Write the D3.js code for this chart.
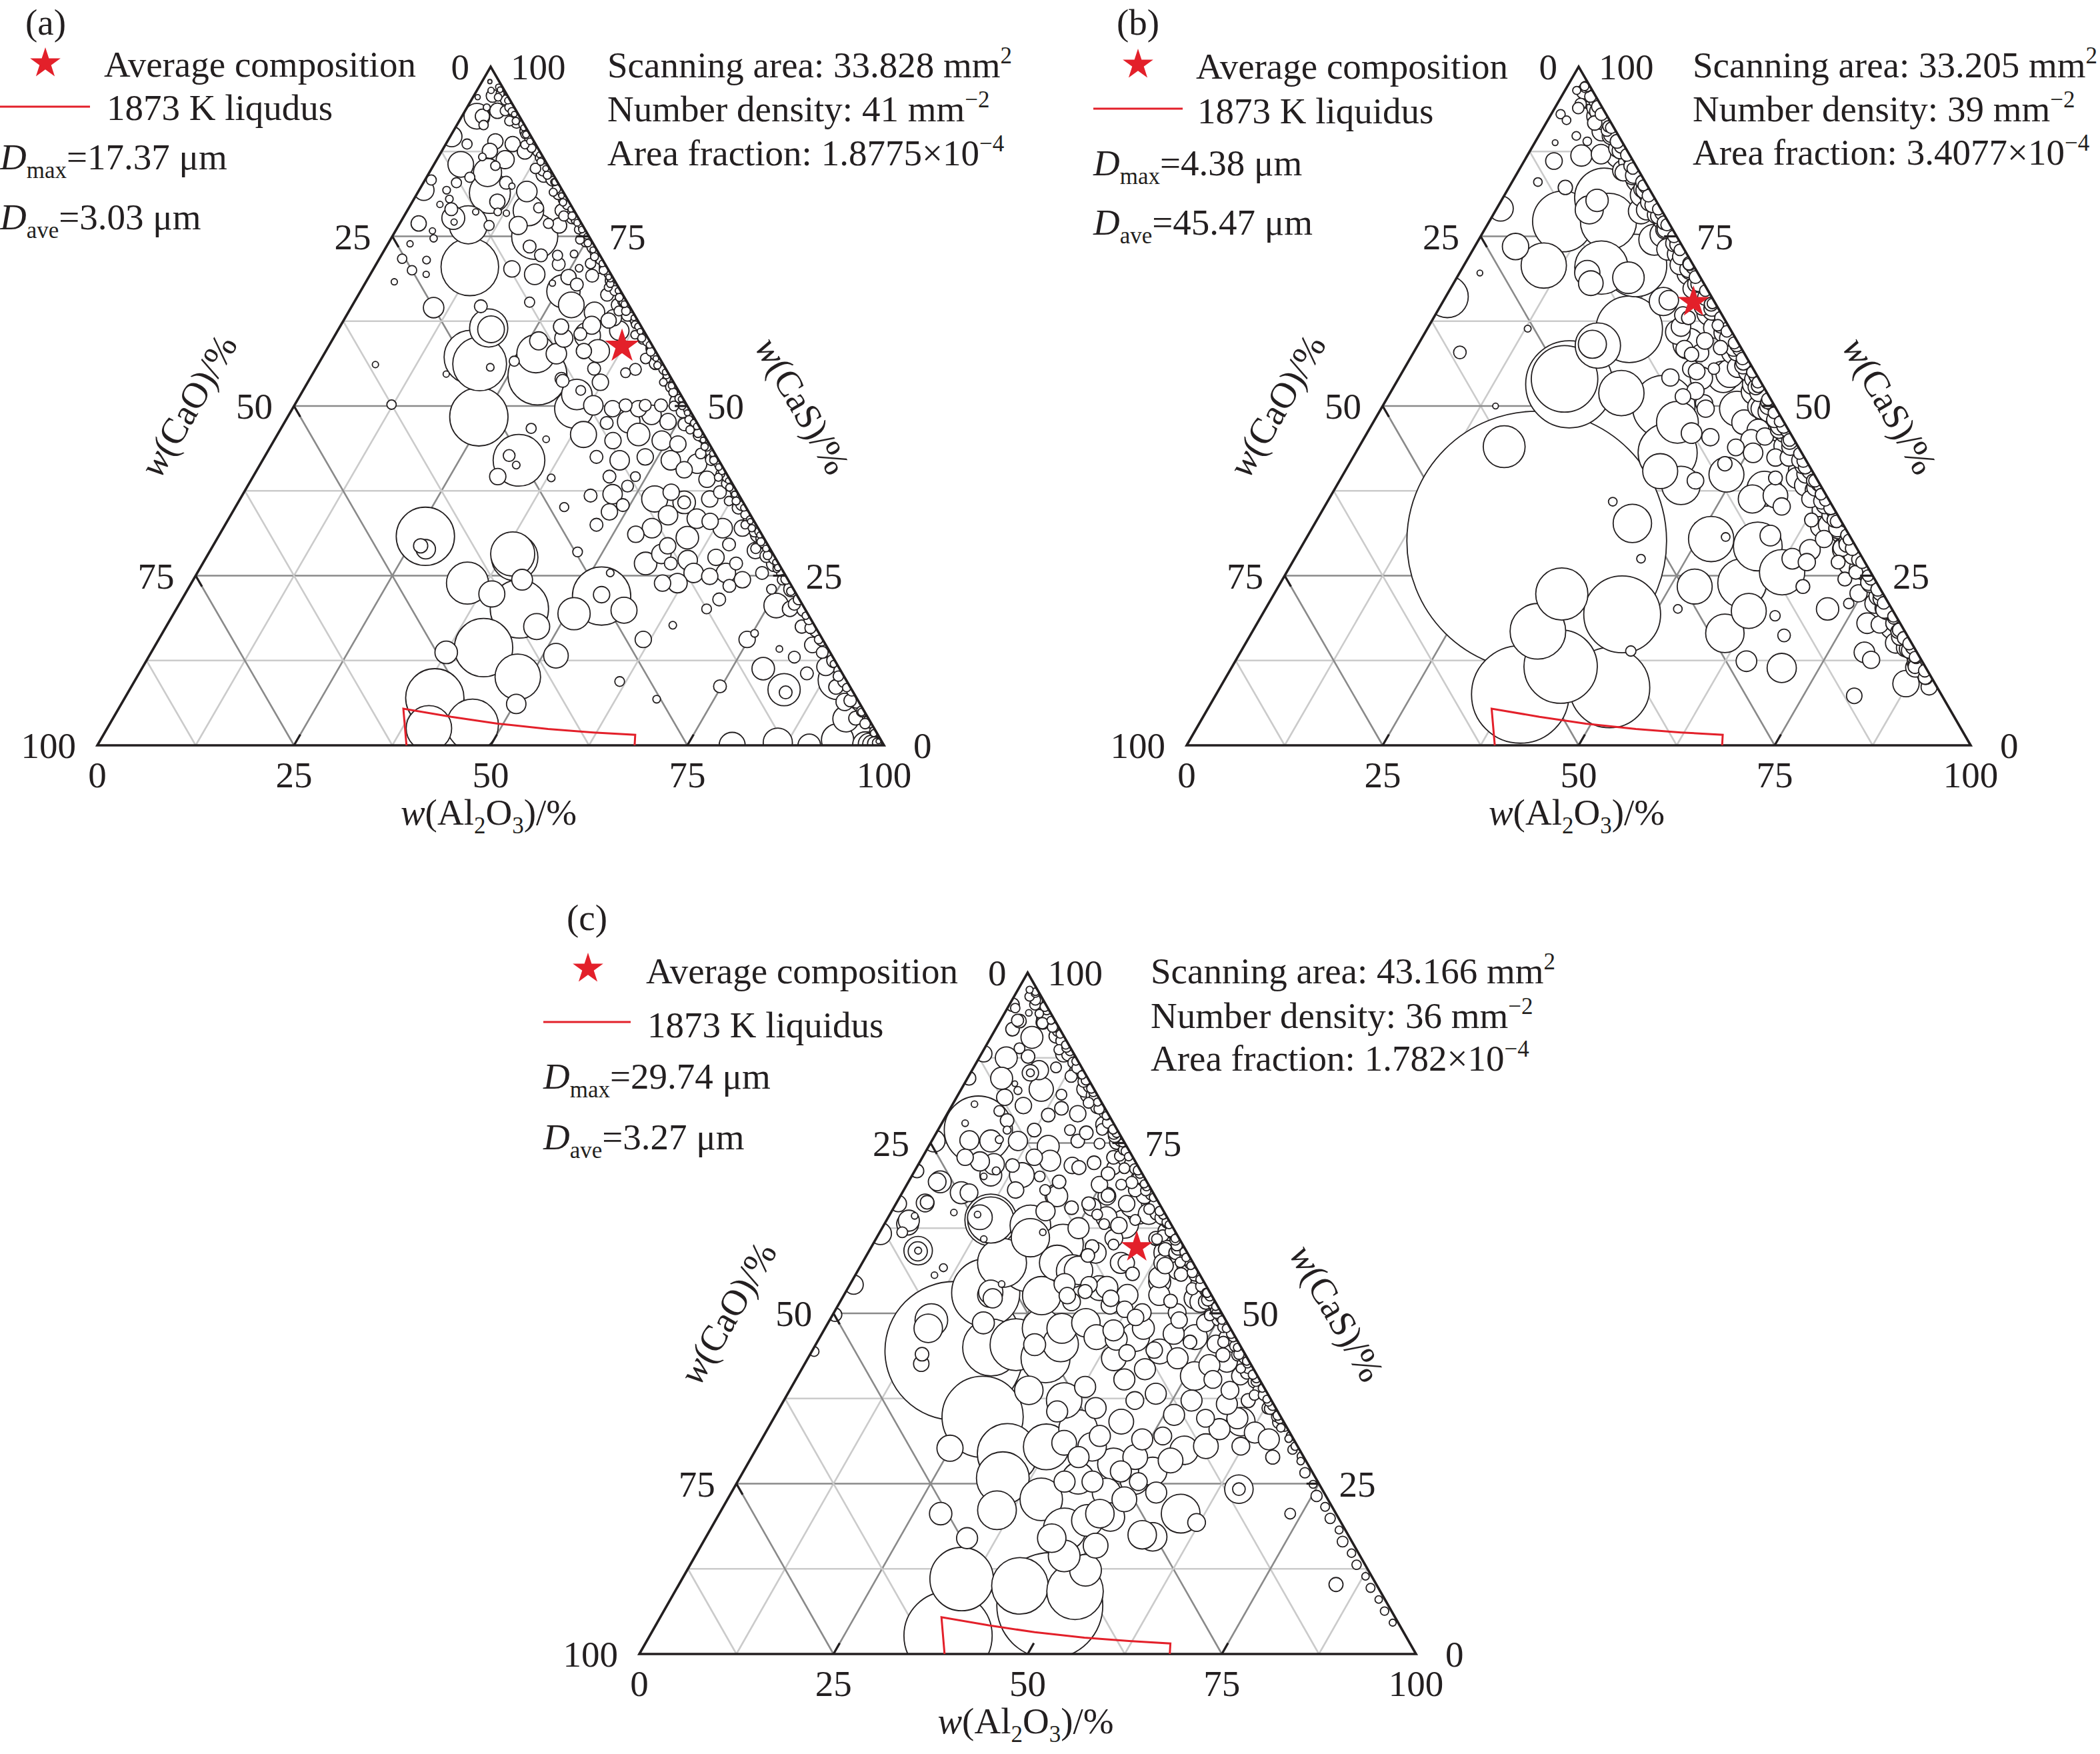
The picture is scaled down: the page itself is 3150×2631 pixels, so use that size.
<!DOCTYPE html>
<html><head><meta charset="utf-8">
<script src="https://cdn.jsdelivr.net/npm/d3@7"></script>
<style>
body{margin:0;background:#fff}
svg{display:block}
text{font-family:"Liberation Serif","Times New Roman",serif;fill:#231f20}
</style>
</head><body>
<svg id="chart" width="3150" height="2631"></svg>
<script>
// ---------------- DATA ----------------
const tickValues = [0, 25, 50, 75, 100];
const gridLevels = [12.5, 25, 37.5, 50, 62.5, 75, 87.5];
const majorLevels = [25, 50, 75];
const panelLabels = ["(a)", "(b)", "(c)"];
const legendStarText = "Average composition";
const legendLineTexts = ["1873 K liqudus", "1873 K liquidus", "1873 K liquidus"];
const scanAreas = ["33.828", "33.205", "43.166"];
const numberDensities = ["41", "39", "36"];
const areaFractions = ["1.8775", "3.4077", "1.782"];
const dMaxValues = ["17.37", "4.38", "29.74"];
const dAveValues = ["3.03", "45.47", "3.27"];
// average composition [w(Al2O3), w(CaS)]
const avgComp = [[37.3, 58.8], [32.0, 65.3], [34.2, 59.7]];
// 1873 K liquidus [w(Al2O3), w(CaS)]
const liquidus = [[39.3, 0], [36.2, 5.4], [42.9, 4.2], [49.3, 3.2], [56.1, 2.4], [62.1, 1.9], [67.6, 1.55], [68.3, 0]];

// inclusions [w(Al2O3), w(CaS), diameter um]
const inclA = [
[2.4,95.7,3.7],[2.6,92.7,4.1],[4.1,93.5,4.4],[3.4,91.4,2.7],[5.1,93.5,2.9],[2.7,88.6,2.9],[6.1,89.0,4.4],[6.1,87.6,4.4],[8.5,88.6,4.4],[10.6,87.5,4.4],
[8.7,86.3,5.2],[7.4,84.4,8.1],[5.6,86.7,2.2],[7.9,85.4,2.7],[3.4,85.6,7.4],[5.5,83.7,2.9],[4.2,82.9,2.9],[9.2,81.4,11.8],[10.5,82.9,3.7],[11.5,82.4,1.8],
[13.8,81.6,5.9],[14.7,84.1,4.4],[16.5,79.2,2.9],[15.4,78.8,8.8],[6.4,77.7,6.6],[3.5,81.8,2.2],[4.5,80.5,2.2],[3.7,79.7,1.8],[5.5,79.0,3.7],[10.8,80.1,4.4],
[11.6,78.6,2.2],[12.8,78.4,1.8],[8.8,78.6,1.8],[6.8,77.1,1.8],[8.8,76.7,11.0],[2.4,76.9,4.4],[4.7,75.8,1.8],[5.4,74.7,2.1],[11.5,76.6,2.9],[15.2,76.6,5.2],
[18.1,75.0,13.3],[18.9,76.9,2.9],[20.4,76.6,4.4],[19.6,78.8,3.7],[18.2,73.5,3.7],[20.3,72.2,3.7],[22.4,72.2,2.9],[23.2,70.9,3.7],[24.4,72.4,2.2],[20.9,69.4,5.9],
[17.6,70.2,4.7],[26.1,70.3,2.2],[25.4,69.0,4.4],[28.3,69.2,3.7],[23.8,68.1,1.8],[25.8,66.9,9.6],[27.0,67.9,3.7],[22.3,65.3,2.9],[16.4,64.7,3.7],[27.8,64.9,7.4],
[31.3,63.8,5.9],[28.1,61.7,4.4],[31.9,61.9,5.2],[33.7,62.6,4.4],[33.7,64.9,3.7],[31.6,66.4,3.7],[29.3,60.0,5.2],[34.6,58.1,6.6],[32.8,58.1,4.4],[35.4,55.5,3.7],
[29.5,57.7,5.9],[26.3,59.6,5.2],[26.9,57.7,11.0],[24.7,56.6,2.9],[22.1,55.7,2.2],[17.0,54.7,1.8],[32.0,54.0,3.7],[35.1,51.7,8.8],[10.5,64.5,5.9],[2.9,71.7,2.7],
[2.8,73.9,1.8],[5.0,70.0,2.7],[6.1,71.5,2.2],[7.1,69.4,1.8],[3.6,68.3,1.8],[7.3,56.1,1.8],[12.3,50.2,2.7],[31.8,46.7,2.9],[0.6,81.8,5.9],[0.8,83.3,2.9],
[1.9,92.7,7.4],[0.2,89.7,5.9],
[12.1,70.5,16.6],[24.3,48.4,16.8],[18.9,57.2,15.5],[20.5,56.2,15.5],[19.0,61.5,11.0],[19.4,61.3,7.7],[28.7,54.5,17.0],[26.3,30.8,16.8],[26.4,29.4,4.1],[27.3,28.9,5.6],
[38.7,28.2,12.7],[39.2,27.7,13.4],[35.1,23.9,12.1],[39.0,22.3,7.5],[41.8,24.4,6.0],[43.6,20.1,16.8],[47.1,17.5,7.5],[41.9,14.4,16.8],[37.5,13.7,6.5],[48.4,10.1,13.1],
[51.7,13.2,7.1],[50.2,6.1,5.6],[39.4,7.0,16.8],[46.2,3.0,14.9],[40.9,2.5,13.1],[53.1,22.0,16.8],[53.0,22.2,4.7],[50.9,19.4,9.3],[57.0,19.9,7.5],[52.5,25.4,2.2],
[61.7,9.4,2.8],[61.6,15.6,4.7],[64.3,17.7,2.2],[67.7,6.8,2.2],[74.8,8.7,3.7],[67.4,20.1,2.8],[74.8,15.6,4.7],[79.0,11.3,6.5],[76.0,20.6,7.1],[83.2,8.2,9.3],
[83.6,7.8,3.7],[89.3,9.6,11.2],[93.2,3.9,7.5],[80.7,0,7.5],[86.3,0.4,8.4],[90.5,0,6.5],[93.7,0.8,9.3],[84.9,10.6,3.7],[82.1,13.0,3.4],[75.3,16.5,2.2],
[79.6,14.2,1.9],[74.2,23.0,2.8],[32.1,60.4,7.5],[35.8,49.6,11.2],[38.9,45.8,7.5],[38.0,50.1,5.6],[32.6,42.0,14.9],[31.0,42.7,3.4],[32.6,41.3,2.2],[31.1,39.6,4.7],
[38.0,39.4,2.2],[34.5,45.1,1.9],[41.8,35.1,2.6],[46.8,28.5,2.8],
[67.2,25.4,5.6],[69.8,24.4,4.7],[71.8,25.4,3.7],[65.4,24.9,4.7],[68.3,21.5,3.7],[68.6,23.5,3.7],
[40.7,49.6,4.7],[41.0,47.5,3.7],[42.1,50.1,3.7],[43.7,47.7,6.5],[44.6,50.1,3.4],[45.9,45.8,6.5],[43.1,44.9,4.7],[42.2,42.5,3.7],[45.4,42.0,5.6],[48.4,42.5,4.7],
[48.6,39.6,2.8],[48.3,38.2,3.4],[45.3,39.6,3.7],[44.3,36.8,3.7],[47.0,37.0,5.6],[47.9,34.4,4.7],[47.2,32.5,3.7],[49.1,35.4,3.7],[52.9,31.1,4.7],[54.5,32.0,5.6],
[52.7,36.3,7.5],[54.3,37.3,4.7],[56.7,35.8,6.5],[56.7,35.8,3.7],[55.6,33.9,5.6],[59.5,33.4,5.6],[61.4,33.0,4.7],[59.7,30.6,6.5],[57.8,29.4,4.7],[57.6,28.2,5.6],
[56.3,26.8,6.5],[59.5,26.8,3.7],[61.4,27.3,5.6],[63.1,25.4,5.6],[61.8,23.9,5.6],[59.9,23.9,4.7],[64.8,27.7,4.7],[65.5,29.6,3.7],[63.5,32.0,5.6],[59.7,36.3,4.7],
[57.9,39.2,4.7],[60.5,37.3,3.7],[55.5,41.5,5.6],[54.3,40.6,4.7],[51.9,42.0,5.6],[49.3,44.9,5.6],[51.6,44.4,4.7],[51.0,47.3,3.7],[48.7,47.7,4.7],[46.1,48.7,5.6],
[44.0,49.6,4.7],[46.6,50.1,3.7],[48.5,50.6,4.7],[49.2,52.5,5.6],[54.9,45.8,4.7],[57.8,43.5,5.6],[59.8,41.1,3.7],[62.9,37.3,3.7],[65.4,34.9,3.7],[66.0,32.0,4.7],
[68.5,31.1,4.7],[69.3,28.7,4.7],[67.8,26.8,3.7],[72.7,26.8,4.7],
[31.1,60.6,3.7],[34.1,63.0,4.7],[35.8,61.1,5.6],[40.7,55.4,3.4],[39.7,54.9,2.8],[37.2,53.5,4.7],[32.3,53.7,3.7],[35.3,52.3,2.8],
[1.0,97.8,1.2],[1.8,96.5,1.8],[0.6,95.5,1.5],[2.5,94.0,2.0],
[83.5,14.8,4.5],[86.8,11.6,5.2],[89.6,8.6,4.2],[91.8,6.4,5.0],[94.4,4.0,4.0],[80.8,17.5,3.8],[78.0,20.1,4.4]
];
const edgeA = [
[2.9,96.6,1.6],[4.3,95.1,2.8],[6.0,93.4,2.2],[7.4,91.8,3.4],[9.5,90.0,2.0],[11.0,88.3,3.0],[12.9,86.6,2.4],[14.3,84.8,3.6],[16.6,83.0,2.1],[18.0,81.2,3.1],
[19.9,79.6,2.5],[21.5,77.7,3.3],[23.6,76.0,1.9],[25.0,74.2,3.0],[27.0,72.5,2.6],[28.5,70.5,3.8],[30.8,68.8,2.0],[32.3,67.0,2.9],[34.2,65.3,2.3],[35.7,63.4,3.5],
[37.9,61.7,2.0],[39.4,59.9,3.1],[41.3,58.2,2.6],[42.8,56.3,3.6],[45.1,54.5,1.9],[46.5,52.8,3.0],[48.4,51.1,2.4],[49.8,49.2,3.7],[52.1,47.5,2.1],[53.6,45.7,3.2],
[55.5,44.0,2.5],[57.0,42.1,3.4],[59.2,40.4,2.0],[60.7,38.6,3.0],[62.6,36.9,2.3],[64.0,35.0,3.6],[66.3,33.3,2.0],[67.8,31.5,3.1],[69.7,29.8,2.6],[71.1,27.9,3.7],
[73.4,26.2,1.9],[74.9,24.4,3.0],[76.8,22.7,2.4],[78.2,20.8,3.5],[80.5,19.1,2.1],[82.0,17.3,3.2],[83.9,15.6,2.5],[85.3,13.7,3.4],[87.6,12.0,2.0],[89.1,10.2,3.0],
[91.0,8.5,2.4],[92.4,6.6,3.6],[94.7,4.9,2.2],[96.0,3.2,3.0],[97.8,1.8,2.0],[99.0,0.6,1.4],[98.9,0.4,2.6],[98.6,0.3,3.8],[98.3,0.2,5.0],[98.0,0.2,6.2],[97.6,0.1,7.4],
[3.2,95.5,2.2],[6.4,92.0,2.8],[10.1,88.5,2.4],[13.2,85.0,3.0],[17.2,81.5,2.3],[20.3,78.0,2.9],[24.1,74.5,2.5],[27.2,71.0,3.0],[31.2,67.5,2.3],[34.3,64.0,2.8],
[38.1,60.5,2.4],[41.2,57.0,3.0],[45.2,53.5,2.2],[48.3,50.0,2.8],[52.1,46.5,2.4],[55.2,43.0,3.0],[59.2,39.5,2.3],[62.3,36.0,2.7],[66.1,32.5,2.4],[69.2,29.0,2.9]
];
const rimA = [
[3.3,96.5,2.4],[4.2,95.5,3.6],[5.4,94.5,2.9],[6.3,93.5,4.2],[7.2,92.5,3.1],[8.4,91.5,2.6],[9.3,90.5,3.8],[10.2,89.5,2.9],[11.4,88.5,4.0],[12.3,87.5,3.2],
[13.2,86.5,2.5],[14.4,85.5,3.7],[15.3,84.5,3.0],[16.2,83.5,4.3],[17.4,82.5,3.1],[18.3,81.5,2.6],[19.2,80.5,3.9],[20.4,79.5,2.8],[21.3,78.5,4.1],[22.2,77.5,3.3],
[23.4,76.5,2.4],[24.3,75.5,3.6],[25.2,74.5,2.9],[26.4,73.5,4.2],[27.3,72.5,3.1],[28.2,71.5,2.6],[29.4,70.5,3.8],[30.3,69.5,2.9],[31.2,68.5,4.0],[32.4,67.5,3.2],
[33.3,66.5,2.5],[34.2,65.5,3.7],[35.4,64.5,3.0],[36.3,63.5,4.3],[37.2,62.5,3.1],[38.4,61.5,2.6],[39.3,60.5,3.9],[40.2,59.5,2.8],[41.4,58.5,4.1],[42.3,57.5,3.3],
[43.2,56.5,2.4],[44.4,55.5,3.6],[45.3,54.5,2.9],[46.2,53.5,4.2],[47.4,52.5,3.1],[48.3,51.5,2.6],[49.2,50.5,3.8],[50.4,49.5,2.9],[51.3,48.5,4.0],[52.2,47.5,3.2],
[53.4,46.5,2.5],[54.3,45.5,3.7],[55.2,44.5,3.0],[56.4,43.5,4.3],[57.3,42.5,3.1],[58.2,41.5,2.6],[59.4,40.5,3.9],[60.3,39.5,2.8],[61.2,38.5,4.1],[62.4,37.5,3.3],
[63.3,36.5,2.4],[64.2,35.5,3.6],[65.4,34.5,2.9],[66.3,33.5,4.2],[67.2,32.5,3.1],[68.4,31.5,2.6],[69.3,30.5,3.8],[70.2,29.5,2.9],[71.4,28.5,4.0],[72.3,27.5,3.2],
[73.2,26.5,2.5],[74.4,25.5,3.7],[75.3,24.5,3.0],[76.7,23.0,4.3],[78.4,21.5,3.1],[79.8,20.0,3.9],[81.2,18.5,2.8],[82.9,17.0,4.1],[84.3,15.5,3.3],[85.7,14.0,3.6],
[87.4,12.5,4.2],[88.8,11.0,3.1],[90.2,9.5,3.8],[91.9,8.0,2.9],[93.3,6.5,4.0],[94.7,5.0,3.2],[96.4,3.5,3.7],[97.8,2.0,3.0]
];
const fringeA = [
[2.5,97,1.7],[3.2,96,2.3],[4.7,95,1.9],[5.35,94,2.5],[6.5,93,1.6],[7.2,92,2.1],[8.7,91,1.7],[9.35,90,2.3],[10.5,89,1.9],[11.2,88,2.5],
[12.7,87,1.6],[13.35,86,2.1],[14.5,85,1.7],[15.2,84,2.3],[16.7,83,1.9],[17.35,82,2.5],[18.5,81,1.6],[19.2,80,2.1],[20.7,79,1.7],[21.35,78,2.3],
[22.5,77,1.9],[23.2,76,2.5],[24.7,75,1.6],[25.35,74,2.1],[26.5,73,1.7],[27.2,72,2.3],[28.7,71,1.9],[29.35,70,2.5],[30.5,69,1.6],[31.2,68,2.1],
[32.7,67,1.7],[33.35,66,2.3],[34.5,65,1.9],[35.2,64,2.5],[36.7,63,1.6],[37.35,62,2.1],[38.5,61,1.7],[39.2,60,2.3],[40.7,59,1.9],[41.35,58,2.5],
[42.5,57,1.6],[43.2,56,2.1],[44.7,55,1.7],[45.35,54,2.3],[46.5,53,1.9],[47.2,52,2.5],[48.7,51,1.6],[49.35,50,2.1],[50.5,49,1.7],[51.2,48,2.3],
[52.7,47,1.9],[53.35,46,2.5],[54.5,45,1.6],[55.2,44,2.1],[56.7,43,1.7],[57.35,42,2.3],[58.5,41,1.9],[59.2,40,2.5],[60.7,39,1.6],[61.35,38,2.1],
[62.5,37,1.7],[63.2,36,2.3],[64.7,35,1.9],[65.35,34,2.5],[66.5,33,1.6],[67.2,32,2.1],[68.7,31,1.7],[69.35,30,2.3],[70.5,29,1.9],[71.2,28,2.5],
[72.7,27,1.6],[73.35,26,2.1]
];
const inclB = [
[29.6,30.1,45.3],
[18.5,44.0,7.3],[40.5,32.7,6.7],[36.4,35.9,1.5],[44.2,27.5,1.5],[36.7,22.3,9.1],[36.4,16.8,9.7],[41.9,11.6,12.8],[38.8,7.5,17.0],[49.7,8.5,14.0],
[45.9,19.3,13.4],[49.7,13.9,1.8],[53.1,23.4,6.1],[51.7,30.4,7.9],[53.4,30.7,1.5],[52.6,20.1,1.5],[60.4,16.5,6.7],[61.8,19.8,6.1],[58.9,23.9,8.5],[58.2,29.3,8.5],
[63.2,25.5,7.9],[59.0,30.9,3.6],[65.2,12.4,3.6],[70.2,11.4,5.1],[68.1,16.2,2.2],[65.5,19.1,1.8],[71.7,20.1,3.9],[74.0,20.9,1.8],[81.5,7.3,2.7],[81.0,12.6,3.0],
[77.8,18.0,3.6],[87.2,9.1,4.6],[87.4,12.6,4.3],[63.5,27.5,3.6],[65.6,27.0,3.0],[66.1,30.4,3.0],[65.1,28.8,3.6],[69.6,27.0,2.4],[66.9,23.4,2.4],[63.1,33.2,2.4],
[56.7,36.8,4.3],[54.8,37.8,6.1],[54.0,36.3,4.9],[48.9,39.9,6.1],[43.9,38.3,6.7],[40.2,40.4,6.1],[38.8,47.6,7.3],[35.9,49.9,10.9],[37.6,51.4,2.7],[40.8,50.4,3.0],
[44.1,45.4,3.0],[45.4,49.6,6.1],[41.9,54.8,4.9],[49.5,45.0,3.6],[53.9,42.4,3.0],[36.6,57.8,3.0],[36.6,55.5,3.0],[32.5,63.0,2.4],[29.5,51.9,7.9],[22.2,59.1,4.9],
[23.0,58.9,7.9],[22.2,53.2,15.2],[21.2,54.0,11.6],[21.9,70.7,10.9],[21.9,68.9,5.5],[10.2,70.7,7.9],[5.2,73.5,4.6],[2.6,69.6,1.0],[5.9,57.9,2.2],[14.4,50.0,1.0],
[12.8,61.4,1.2],[17.5,68.1,4.3],[0.2,66.1,7.3],
[2.2,97.1,1.5],[2.4,92.1,1.5],[6.2,91.7,2.5],[6.9,86.9,3.7],[9.3,87.1,3.4],[2.6,88.8,1.0],[3.8,86.1,2.9],[3.3,83.0,1.5],[7.2,82.2,2.5],[12.2,80.3,3.9],
[12.9,80.7,10.3],[11.9,78.9,4.9],[15.2,77.2,9.8],[18.6,78.7,4.4],[9.4,77.2,10.6],[0.5,79.1,4.4],[17.7,70.4,9.3],[16.3,69.6,4.4],[22.4,74.5,5.4],[27.5,70.8,3.4],
[28.1,65.4,4.9],[25.8,61.3,11.6],[39.8,43.1,10.3],[38.6,54.1,3.9],[34.4,59.2,5.4],[28.7,65.6,3.4],
[31.6,63.4,2.9],[32.2,61.7,3.4],[33.5,64.6,2.9],[36.8,61.9,2.0],[36.3,59.6,2.9],[35.6,57.6,2.5],[37.5,55.1,2.9],[38.8,58.6,2.5],[49.7,46.4,3.9],[47.9,41.5,2.5],
[50.7,43.1,3.4],[45.4,39.0,2.9],[48.1,43.9,2.9],[39.5,55.5,2.0],
[41.3,54.3,5.5],[45.6,53.2,3.6],[38.8,52.2,3.0],[47.3,47.6,4.3],[51.0,45.5,3.0],[55.4,39.4,2.4],[55.6,42.4,3.0],[58.1,39.4,3.6],[58.3,35.2,3.0],[61.4,36.3,3.0],
[64.8,32.2,3.6],[69.0,29.1,3.0],[71.7,24.5,2.4],[72.6,25.5,2.4],[74.5,22.4,3.0],[79.5,17.8,3.0],[79.6,13.7,3.6],
[1.5,96.5,1.4],[3.0,94.5,2.0],[1.2,93.0,1.6],
[48.5,49.6,3.6],[52.3,46.5,3.0],[55.2,45.0,3.0],[58.4,41.4,3.0],[61.7,38.3,2.4],[64.8,35.8,3.0],[67.4,33.2,2.4],[69.6,30.6,3.0],[72.2,28.1,2.4],[74.1,26.0,3.0],
[77.2,22.4,2.4],[79.4,19.8,3.0],[82.3,16.8,2.4],[84.9,14.2,3.0],[87.1,11.6,2.4],[32.2,60.9,4.3],[34.3,58.4,3.0],[34.6,54.2,3.0],[41.4,49.6,3.0],[41.4,46.0,3.6],
[3.0,93.9,2.0],[3.7,95.6,2.0],[6.6,89.0,1.5],[4.8,89.8,1.5],[8.3,90.6,2.0],[13.5,84.4,2.9]
];
const edgeB = [
[2.6,97.0,1.6],[3.5,95.6,2.8],[5.4,94.1,2.2],[6.0,92.7,3.6],[8.2,91.2,2.0],[9.2,89.8,3.0],[11.3,88.3,2.5],[11.6,86.9,4.2],[13.9,85.4,2.3],[14.9,84.0,3.3],
[17.0,82.5,1.9],[17.5,81.1,4.0],[19.6,79.6,2.6],[20.8,78.2,3.1],[22.9,76.7,2.1],[23.1,75.3,4.5],[25.6,73.8,2.4],[26.4,72.4,3.5],[28.6,70.9,2.0],[29.2,69.5,3.8],
[31.3,68.0,2.7],[32.4,66.6,3.2],[34.5,65.1,1.8],[34.8,63.7,4.3],[37.2,62.2,2.3],[38.1,60.8,3.4],[40.2,59.3,2.1],[40.7,57.9,3.9],[42.8,56.4,2.6],[44.0,55.0,3.0],
[46.1,53.5,2.0],[46.3,52.1,4.4],[48.8,50.6,2.4],[49.6,49.2,3.6],[51.8,47.7,1.9],[52.4,46.3,3.7],[54.5,44.8,2.8],[55.6,43.4,3.1],[57.7,41.9,2.2],[58.0,40.5,4.1],
[60.4,39.0,2.3],[61.3,37.6,3.3],[63.4,36.1,2.0],[63.9,34.7,4.0],[66.0,33.2,2.5],[67.2,31.8,3.2],[69.3,30.3,1.9],[69.5,28.9,4.3],[72.0,27.4,2.4],[72.8,26.0,3.5],
[75.0,24.5,2.1],[75.6,23.1,3.6],[77.7,21.6,2.6],[78.8,20.2,3.0],[80.8,18.7,2.0],[81.3,17.3,3.8],[83.6,15.8,2.3],[84.5,14.4,3.2],[86.6,12.9,2.0],[87.2,11.5,3.4],
[89.3,10.0,2.4],[90.4,8.6,2.8],
[2.5,96.3,2.5],[5.8,93.4,3.0],[7.7,90.5,3.4],[11.5,87.6,2.8],[13.3,84.7,3.6],[17.5,81.8,3.0],[19.2,78.9,3.5],[23.0,76.0,2.7],[24.8,73.1,3.8],[28.9,70.2,3.0],
[30.9,67.3,3.4],[34.8,64.4,2.8],[36.5,61.5,3.6],[40.5,58.6,3.0],[42.4,55.7,3.5],[46.2,52.8,2.7],[48.0,49.9,3.8],[52.1,47.0,3.0],[54.1,44.1,3.4],[58.0,41.2,2.8],
[59.7,38.3,3.6],[63.7,35.4,3.0],[65.6,32.5,3.5],[69.4,29.6,2.7],[71.2,26.7,3.8],[75.3,23.8,3.0],[77.3,20.9,3.4],[81.2,18.0,2.8],[82.9,15.1,3.6],[86.9,12.2,3.0]
];
const rimB = [
[3.3,96.5,3.0],[4.1,95.5,4.6],[5.4,94.5,2.6],[6.2,93.5,4.0],[7.3,92.5,3.4],[8.1,91.5,5.0],[9.4,90.5,2.8],[10.2,89.5,3.8],[11.3,88.5,3.0],[12.1,87.5,4.6],
[13.4,86.5,2.6],[14.2,85.5,4.0],[15.3,84.5,3.4],[16.1,83.5,5.0],[17.4,82.5,2.8],[18.2,81.5,3.8],[19.3,80.5,3.0],[20.1,79.5,4.6],[21.4,78.5,2.6],[22.2,77.5,4.0],
[23.3,76.5,3.4],[24.1,75.5,5.0],[25.4,74.5,2.8],[26.2,73.5,3.8],[27.3,72.5,3.0],[28.1,71.5,4.6],[29.4,70.5,2.6],[30.2,69.5,4.0],[31.3,68.5,3.4],[32.1,67.5,5.0],
[33.4,66.5,2.8],[34.2,65.5,3.8],[35.3,64.5,3.0],[36.1,63.5,4.6],[37.4,62.5,2.6],[38.2,61.5,4.0],[39.3,60.5,3.4],[40.1,59.5,5.0],[41.4,58.5,2.8],[42.2,57.5,3.8],
[43.3,56.5,3.0],[44.1,55.5,4.6],[45.4,54.5,2.6],[46.2,53.5,4.0],[47.3,52.5,3.4],[48.1,51.5,5.0],[49.4,50.5,2.8],[50.2,49.5,3.8],[51.3,48.5,3.0],[52.1,47.5,4.6],
[53.4,46.5,2.6],[54.2,45.5,4.0],[55.3,44.5,3.4],[56.1,43.5,5.0],[57.4,42.5,2.8],[58.2,41.5,3.8],[59.3,40.5,3.0],[60.1,39.5,4.6],[61.4,38.5,2.6],[62.2,37.5,4.0],
[63.3,36.5,3.4],[64.1,35.5,5.0],[65.4,34.5,2.8],[66.2,33.5,3.8],[67.3,32.5,3.0],[68.1,31.5,4.6],[69.4,30.5,2.6],[70.2,29.5,4.0],[71.3,28.5,3.4],[72.1,27.5,5.0],
[73.4,26.5,2.8],[74.2,25.5,3.8],[75.3,24.5,3.0],[76.1,23.5,4.6],[77.4,22.5,2.6],[78.2,21.5,4.0],[79.3,20.5,3.4],[80.1,19.5,4.4],[81.4,18.5,2.8],[82.2,17.5,3.6],
[83.3,16.5,3.0],[84.1,15.5,4.0],[85.4,14.5,2.6],[86.2,13.5,3.4],[87.3,12.5,2.8],[88.1,11.5,3.6],[89.4,10.5,2.4],[90.2,9.5,3.0]
];
const fringeB = [
[2.4,97,2.0],[3.0,96,2.8],[4.65,95,2.4],[5.2,94,3.2],[6.4,93,2.2],[7.0,92,3.0],[8.65,91,2.0],[9.2,90,2.8],[10.4,89,2.4],[11.0,88,3.2],
[12.65,87,2.2],[13.2,86,3.0],[14.4,85,2.0],[15.0,84,2.8],[16.65,83,2.4],[17.2,82,3.2],[18.4,81,2.2],[19.0,80,3.0],[20.65,79,2.0],[21.2,78,2.8],
[22.4,77,2.4],[23.0,76,3.2],[24.65,75,2.2],[25.2,74,3.0],[26.4,73,2.0],[27.0,72,2.8],[28.65,71,2.4],[29.2,70,3.2],[30.4,69,2.2],[31.0,68,3.0],
[32.65,67,2.0],[33.2,66,2.8],[34.4,65,2.4],[35.0,64,3.2],[36.65,63,2.2],[37.2,62,3.0],[38.4,61,2.0],[39.0,60,2.8],[40.65,59,2.4],[41.2,58,3.2],
[42.4,57,2.2],[43.0,56,3.0],[44.65,55,2.0],[45.2,54,2.8],[46.4,53,2.4],[47.0,52,3.2],[48.65,51,2.2],[49.2,50,3.0],[50.4,49,2.0],[51.0,48,2.8],
[52.65,47,2.4],[53.2,46,3.2],[54.4,45,2.2],[55.0,44,3.0],[56.65,43,2.0],[57.2,42,2.8],[58.4,41,2.4],[59.0,40,3.2],[60.65,39,2.2],[61.2,38,3.0],
[62.4,37,2.0],[63.0,36,2.8],[64.65,35,2.4],[65.2,34,3.2],[66.4,33,2.2],[67.0,32,3.0],[68.65,31,2.0],[69.2,30,2.8],[70.4,29,2.4],[71.0,28,3.2],
[72.65,27,2.2],[73.2,26,3.0],[74.4,25,2.0],[75.0,24,2.8],[76.65,23,2.4],[77.2,22,3.2],[78.4,21,2.2],[79.0,20,3.0],[80.65,19,2.0],[81.2,18,2.8],
[82.4,17,2.4],[83.0,16,3.0],[84.65,15,2.2],[85.2,14,2.8],[86.4,13,2.0],[87.0,12,2.6],[88.65,11,2.2],[89.2,10,2.4]
];
const inclC = [
[18.3,44.5,29.7],[13.3,47.8,6.1],[15.0,42.6,3.3],[26.8,34.8,17.4],[24.9,30.2,5.6],[28.5,20.6,4.8],[33.7,17.0,4.5],[36.0,11.0,13.6],[38.4,2.7,18.9],[44.0,10.0,12.1],
[49.3,7.1,22.7],[51.5,9.2,12.1],[31.5,45.5,7.6],[30.8,38.7,6.1],[36.0,35.6,4.5],[37.2,30.4,9.8],[32.7,29.4,12.9],[33.9,25.8,11.3],[40.4,22.7,9.1],[35.5,21.1,8.3],
[45.6,18.3,9.1],[47.9,19.6,6.8],[43.6,25.8,6.8],[40.0,33.0,8.3],[51.0,25.5,6.1],[57.5,17.2,6.1],[59.4,20.6,8.3],[65.1,24.2,6.1],[65.1,24.2,2.7],[51.3,12.3,6.8],
[50.8,15.9,5.3],
[52.7,26.8,6.1],[54.2,28.4,5.3],[55.2,29.9,6.1],[57.7,30.5,5.3],[58.2,33.0,4.5],[59.7,34.6,4.5],[62.2,30.5,3.8],[55.6,34.6,3.8],[51.1,40.8,6.1],[47.6,43.4,4.5],
[44.8,44.4,5.3],[44.2,41.8,4.5],[42.3,40.3,4.5],[39.4,43.4,5.3],[35.6,46.5,5.3],[33.2,48.6,6.1],[37.3,47.5,4.5],[40.6,46.5,6.1],[39.7,50.1,3.8],[36.5,52.7,4.5],
[35.0,51.2,3.8],[32.4,53.7,5.3],[30.8,53.2,3.0],[29.8,51.7,3.8],[27.6,54.3,4.5],[25.1,57.4,7.6],[28.4,56.3,6.1],[29.3,58.9,4.5],[30.6,61.0,3.8],[28.1,64.1,4.5],
[25.5,65.6,3.8],[25.3,62.5,4.5],[18.8,52.7,5.3],[27.9,47.8,8.3],[36.1,37.2,7.6],[43.1,30.4,6.1],[47.1,27.9,6.8],[48.3,23.7,6.1],[51.1,22.7,5.3],[50.6,20.1,6.1],
[44.6,17.0,6.1],[47.5,14.4,6.8],[62.1,19.3,3.8],[73.5,20.6,2.3],[84.6,10.2,3.0],[56.0,17.5,6.1],
[40.6,52.7,4.5],[44.2,50.1,3.8],[45.4,52.2,4.5],[49.0,49.6,3.8],[45.3,47.0,4.5],[48.3,46.5,5.3],[51.5,45.5,3.8],[52.3,47.5,3.0],[54.2,42.9,4.5],[53.7,40.3,3.8],
[57.0,40.8,3.8],[59.8,37.2,3.0],[57.3,36.7,4.5],[52.5,37.2,4.5],[51.3,35.1,4.5],[47.4,38.2,4.5],[45.2,37.2,3.8],[45.0,34.1,5.3],[49.0,31.5,4.5],[51.4,32.0,3.8],
[49.4,28.9,5.3],[63.0,32.5,4.5],[67.1,28.9,3.0],[45.0,54.8,4.5],[41.5,57.4,3.8],[38.4,58.9,5.3],[39.3,55.3,4.5],[33.3,57.4,4.5],[30.9,63.1,6.1],
[5.6,92.7,2.9],[5.3,90.5,4.7],[3.5,87.5,4.7],[8.6,85.7,4.1],[4.4,84.5,4.7],[10.3,82.9,5.2],[9.2,80.5,3.5],[5.2,76.9,14.6],[4.8,75.4,4.1],[7.6,75.3,4.7],
[5.5,72.9,3.5],[7.7,72.3,4.1],[10.1,70.3,4.7],[4.1,69.3,4.7],[3.9,66.3,2.9],[3.0,63.1,4.7],[6.3,59.1,4.1],[0.5,54.2,4.1],[14.4,44.0,2.9],[13.1,49.0,7.0],
[13.4,63.7,11.1],[13.4,63.7,9.9],[18.9,62.9,8.7],[19.8,61.1,8.2],[24.5,60.1,8.7],[18.0,57.4,10.5],[21.4,57.0,11.1],[27.7,56.2,7.0],[25.5,52.6,8.2],[18.7,53.1,5.2],
[18.1,53.0,14.6],[20.0,48.6,4.7],[22.8,45.0,12.2],[25.8,45.4,11.1],[33.3,53.8,4.7],[41.0,47.8,4.7],[31.9,64.9,5.2],
[22.9,65.5,2.9],[26.7,64.5,2.3],[28.3,63.1,2.3],[28.4,59.8,2.9],[31.0,60.1,2.3],[30.8,54.2,3.5],[34.6,52.2,3.5],[35.6,55.8,2.9],[34.0,57.4,3.5],[37.2,50.6,3.5],
[39.2,49.4,3.5],[40.7,44.2,3.5],[44.0,44.6,3.5],[39.7,54.6,4.7],[39.2,57.0,3.5],[42.5,51.8,2.9],[38.0,59.4,2.9],[36.2,60.9,2.3],[32.0,63.7,2.3],[30.3,62.9,3.5],
[29.7,66.1,3.5],[26.7,67.3,2.9],[27.6,68.9,2.3],[25.1,70.5,2.9],[22.5,72.1,2.9],[19.9,71.7,3.5],[19.4,69.3,2.9],[20.0,67.3,4.7],[18.8,75.3,2.9],[17.0,76.9,2.3],
[16.8,79.3,3.5],[14.3,80.1,2.9],[13.1,79.1,2.9],[13.3,82.1,2.3],[15.4,74.5,4.7],[14.4,72.9,3.5],[12.2,71.7,2.9],[14.4,68.1,3.5],[16.5,70.1,2.3],[18.2,68.1,2.3],
[12.4,76.9,2.9],[11.1,75.3,4.1],
[0.3,88.1,3.5],[0.2,84.5,2.9],[0.3,75.3,4.7],[0.3,70.9,2.9],[0.2,61.7,4.7],[0.3,66.1,3.5],[0.3,49.8,2.9],[0.3,44.4,2.1],
[1.5,97.5,1.5],[3.0,96.0,2.2],[1.0,94.8,2.0],[4.5,94.0,1.8],[2.2,93.0,2.6],
[4.5,88.9,2.3],[2.2,91.7,2.9],[3.3,95.3,2.3],[3.1,94.1,1.4],[2.5,92.9,2.9],[0.4,95.3,2.9],[6.2,87.7,2.9],[10.6,86.1,2.3],[7.7,85.3,3.5],[7.7,85.3,1.7],
[6.5,83.7,1.2],[6.2,81.7,3.5],[7.4,82.7,1.7],[8.2,78.3,2.9],[8.9,76.9,1.7],[6.5,79.7,2.3],[2.8,80.7,1.4],[3.0,77.9,1.4],[8.6,75.5,1.7],[9.3,70.1,1.4],
[10.5,70.9,1.7],[7.6,67.7,4.7],[3.3,64.3,1.4],[10.8,56.7,1.7],[10.2,55.6,1.4],[8.1,64.8,1.4],[11.3,64.5,1.4],[13.9,60.9,1.4],[21.0,61.9,1.4],[19.5,54.3,1.4],
[19.4,52.2,4.1],[30.5,47.8,6.4],[28.2,45.4,4.7],[28.8,52.6,3.5],[28.5,58.5,2.9],[30.6,43.4,10.5],[38.3,46.2,4.7],[19.8,65.0,4.1],[16.8,82.1,3.5],[19.3,76.5,2.9],
[21.8,74.9,2.3],[24.6,72.9,2.9],[26.8,71.3,2.3],[24.8,68.9,3.5],[24.8,66.1,2.9],[29.8,68.1,2.9],[36.8,62.5,3.5],[39.6,58.9,2.9],[41.9,55.7,2.9],[45.0,49.0,3.5],
[48.0,45.8,2.9],[2.9,61.9,2.3],
[2.9,63.6,4.5],[6.3,59.2,6.1],[6.3,59.2,1.5],[3.7,69.3,3.8],[3.7,66.2,3.8],[8.6,67.7,3.8],[11.8,64.1,5.3],[9.7,71.9,4.5],[14.1,70.3,5.3],[16.7,72.4,4.5],
[20.2,67.2,4.5],[20.9,71.4,3.0],[25.4,71.4,3.0],[26.6,67.2,3.8],[30.5,65.7,4.5],[33.3,64.6,4.5],[36.0,61.0,3.0],[38.7,57.4,3.8],[41.1,56.3,3.8],[46.4,51.7,4.5],
[48.6,48.6,3.8],[53.2,43.9,3.0],[52.2,42.4,4.5],[56.7,38.7,3.8],[60.4,34.1,6.1],[65.3,31.5,4.5],
[37.8,39.2,4.5],[40.7,36.1,4.5],[39.2,31.0,5.3],[42.1,28.9,4.5],[43.3,32.0,4.5],[48.6,26.8,4.5],[45.7,25.3,4.5],[42.1,25.3,4.5],[51.6,25.3,3.8],[54.7,23.7,4.5],
[49.0,20.6,6.1]
];
const edgeC = [
[2.4,97.2,1.6],[3.2,95.9,2.6],[4.9,94.6,2.0],[5.5,93.3,3.3],[7.4,92.0,2.2],[8.3,90.7,3.0],[10.2,89.4,1.8],[10.6,88.1,3.5],[12.5,86.8,2.4],[13.5,85.5,2.9],
[15.4,84.2,2.0],[15.9,82.9,3.4],[17.8,81.6,2.3],[18.8,80.3,2.8],[20.6,79.0,1.7],[21.0,77.7,3.6],[22.9,76.4,2.5],[23.9,75.1,3.0],[25.7,73.8,1.9],[26.3,72.5,3.3],
[28.2,71.2,2.2],[29.2,69.9,2.7],[31.0,68.6,1.8],[31.4,67.3,3.5],[33.3,66.0,2.4],[34.3,64.7,3.0],[36.2,63.4,2.0],[36.7,62.1,3.2],[38.6,60.8,2.3],[39.6,59.5,2.8],
[41.3,58.2,1.8],[41.8,56.9,3.4],[43.7,55.6,2.5],[44.7,54.3,2.9],[46.6,53.0,1.9],[47.1,51.7,3.2],[49.0,50.4,2.2],[50.0,49.1,2.7],[51.7,47.8,1.8],[52.3,46.5,3.0],
[54.1,45.2,2.3],[55.1,43.9,2.6],[57.0,42.6,1.8],[57.6,41.3,2.8],[59.4,40.0,2.1],[60.4,38.7,2.5],[62.1,37.4,1.7],[62.9,36.1,2.6],[64.6,34.8,2.0],
[66.0,33.2,1.8],[67.8,31.6,1.6],[69.1,30.0,2.0],[71.0,28.3,1.6],[72.4,26.6,2.2],[74.3,24.9,1.7],[75.6,23.2,2.4],[77.5,21.6,1.9],[79.0,19.9,2.2],[81.0,18.2,1.7],
[82.3,16.5,2.3],[84.3,14.8,1.8],[85.8,13.1,2.0],[87.8,11.4,1.6],[89.3,9.7,1.9],[91.2,8.0,1.6],[92.8,6.3,1.8],[94.7,4.6,1.5],
[2.0,96.5,2.0],[5.6,92.6,2.4],[9.7,88.7,2.2],[13.2,84.8,2.6],[17.4,80.9,2.3],[21.1,77.0,2.5],[25.3,73.1,2.2],[28.8,69.2,2.6],[33.0,65.3,2.3],[36.7,61.4,2.5],
[40.9,57.5,2.2],[44.4,53.6,2.6],[48.6,49.7,2.3],[52.3,45.8,2.4],[56.5,41.9,2.0],[60.2,38.0,2.2]
];
const rimC = [
[3.3,96.5,2.4],[4.4,95.5,3.4],[5.2,94.5,2.0],[6.3,93.5,3.0],[7.4,92.5,3.8],[8.2,91.5,2.6],[9.3,90.5,2.4],[10.4,89.5,3.4],[11.2,88.5,2.0],[12.3,87.5,3.0],
[13.4,86.5,3.8],[14.2,85.5,2.6],[15.3,84.5,2.4],[16.4,83.5,3.4],[17.2,82.5,2.0],[18.3,81.5,3.0],[19.4,80.5,3.8],[20.2,79.5,2.6],[21.3,78.5,2.4],[22.4,77.5,3.4],
[23.2,76.5,2.0],[24.3,75.5,3.0],[25.4,74.5,3.8],[26.2,73.5,2.6],[27.3,72.5,2.4],[28.4,71.5,3.4],[29.2,70.5,2.0],[30.3,69.5,3.0],[31.4,68.5,3.8],[32.2,67.5,2.6],
[33.3,66.5,2.4],[34.4,65.5,3.4],[35.2,64.5,2.0],[36.3,63.5,3.0],[37.4,62.5,3.8],[38.2,61.5,2.6],[39.3,60.5,2.4],[40.4,59.5,3.4],[41.2,58.5,2.0],[42.3,57.5,3.0],
[43.4,56.5,3.8],[44.2,55.5,2.6],[45.3,54.5,2.4],[46.4,53.5,3.4],[47.2,52.5,2.0],[48.3,51.5,3.0],[49.4,50.5,3.8],[50.2,49.5,2.6],[51.3,48.5,2.4],[52.4,47.5,3.4],
[53.2,46.5,2.0],[54.3,45.5,3.0],[55.4,44.5,3.6],[56.2,43.5,2.6],[57.3,42.5,2.4],[58.4,41.5,3.2],[59.2,40.5,2.0],[60.3,39.5,2.8],[61.4,38.5,3.2],[62.2,37.5,2.4],
[63.3,36.5,2.2],[64.4,35.5,2.8],[65.2,34.5,2.0],[66.3,33.5,2.4],[67.9,32.0,2.0],[69.2,30.5,1.8],[70.8,29.0,2.0]
];
const fringeC = [
[2.5,97,1.8],[3.2,96,2.4],[4.7,95,2.0],[5.35,94,2.7],[6.5,93,1.7],[7.2,92,2.2],[8.7,91,1.8],[9.35,90,2.4],[10.5,89,2.0],[11.2,88,2.7],
[12.7,87,1.7],[13.35,86,2.2],[14.5,85,1.8],[15.2,84,2.4],[16.7,83,2.0],[17.35,82,2.7],[18.5,81,1.7],[19.2,80,2.2],[20.7,79,1.8],[21.35,78,2.4],
[22.5,77,2.0],[23.2,76,2.7],[24.7,75,1.7],[25.35,74,2.2],[26.5,73,1.8],[27.2,72,2.4],[28.7,71,2.0],[29.35,70,2.7],[30.5,69,1.7],[31.2,68,2.2],
[32.7,67,1.8],[33.35,66,2.4],[34.5,65,2.0],[35.2,64,2.7],[36.7,63,1.7],[37.35,62,2.2],[38.5,61,1.8],[39.2,60,2.4],[40.7,59,2.0],[41.35,58,2.7],
[42.5,57,1.7],[43.2,56,2.2],[44.7,55,1.8],[45.35,54,2.4],[46.5,53,2.0],[47.2,52,2.7],[48.7,51,1.7],[49.35,50,2.2],[50.5,49,1.8],[51.2,48,2.4],
[52.7,47,2.0],[53.35,46,2.7],[54.5,45,1.7],[55.2,44,2.2],[56.7,43,1.8],[57.35,42,2.4],[58.5,41,2.0],[59.2,40,2.7],[60.7,39,1.7],[61.35,38,2.2],
[62.5,37,1.8],[63.2,36,2.4],[64.7,35,2.0],[65.35,34,2.7]
];

// ---------------- LAYOUT ----------------
const panels = [
  {x0:146, y0:1118, W:1180, H:1018, dRef:17.37, rRef:45.2, incl: inclA.concat(edgeA, rimA, fringeA),
   label:[38,52], lstar:[68,95], avgText:[156,115], lline:[0,135,160], lineText:[160,180],
   dmax:[0,254], dave:[0,344], stats:[911,116,182,248], starR:27},
  {x0:1780, y0:1118, W:1176, H:1018, dRef:45.47, rRef:195.5, incl: inclB.concat(edgeB, rimB, fringeB),
   label:[1675,52], lstar:[1707,97], avgText:[1794,118], lline:[1640,1774,163], lineText:[1796,185],
   dmax:[1640,263], dave:[1640,352], stats:[2539,116,182,247], starR:25},
  {x0:959, y0:2481, W:1165, H:1022, dRef:29.74, rRef:104.1, incl: inclC.concat(edgeC, rimC, fringeC),
   label:[850,1395], lstar:[882,1453], avgText:[969,1475], lline:[815,946,1533], lineText:[971,1556],
   dmax:[815,1633], dave:[815,1724], stats:[1726,1475,1542,1606], starR:25}
];
const FS = 55, SUBFS = 35, RED = "#e3202a", INK = "#231f20";

const svg = d3.select("#chart");
const defs = svg.append("defs");

function rich(parent, x, y, parts, anchor) {
  const t = parent.append("text").attr("x", x).attr("y", y)
    .attr("font-size", FS).attr("text-anchor", anchor || "start");
  let shift = 0;
  parts.forEach(p => {
    const s = t.append("tspan").text(p.t);
    let target = 0, fs = FS;
    if (p.sub) { target = 13; fs = SUBFS; }
    if (p.sup) { target = -21; fs = SUBFS; }
    if (target - shift !== 0) s.attr("dy", target - shift);
    s.attr("font-size", fs);
    if (p.it) s.attr("font-style", "italic");
    shift = target;
  });
  return t;
}

function starPath(R) {
  return d3.symbol(d3.symbolStar, R * R / 0.8908130915292852)();
}

panels.forEach((p, i) => {
  const g = svg.append("g");
  const xs = d3.scaleLinear().domain([0, 100]).range([p.x0, p.x0 + p.W]);
  const ys = d3.scaleLinear().domain([0, 100]).range([p.y0, p.y0 - p.H]);
  const rs = d3.scaleLinear().domain([0, p.dRef]).range([0, p.rRef]);
  const X = (al, cas) => xs(al + cas / 2);
  const Y = (al, cas) => ys(cas);
  const corners = [[0,0],[100,0],[0,100]];

  const clipId = "clip" + i;
  defs.append("clipPath").attr("id", clipId).append("polygon")
    .attr("points", corners.map(d => X(d[0],d[1]) + "," + Y(d[0],d[1])).join(" "));

  // grid
  const grid = g.append("g").attr("fill", "none");
  gridLevels.forEach(v => {
    const major = majorLevels.includes(v);
    const segs = [
      [[0, v], [100 - v, v]],          // CaS = v
      [[v, 0], [v, 100 - v]],          // Al2O3 = v
      [[100 - v, 0], [0, 100 - v]]     // CaO = v
    ];
    segs.forEach(s => grid.append("line")
      .attr("x1", X(s[0][0], s[0][1])).attr("y1", Y(s[0][0], s[0][1]))
      .attr("x2", X(s[1][0], s[1][1])).attr("y2", Y(s[1][0], s[1][1]))
      .attr("stroke", major ? "#8a8a8a" : "#cbcbcb").attr("stroke-width", 2.6));
  });

  // inclusions (largest first so small ones stay visible)
  const data = p.incl.slice().sort((a, b) => b[2] - a[2]);
  g.append("g").attr("clip-path", `url(#${clipId})`)
    .selectAll("circle").data(data).join("circle")
    .attr("cx", d => X(d[0], d[1])).attr("cy", d => Y(d[0], d[1]))
    .attr("r", d => rs(d[2]))
    .attr("fill", "#fff").attr("stroke", INK).attr("stroke-width", 1.8);

  // triangle frame
  g.append("polygon")
    .attr("points", corners.map(d => X(d[0],d[1]) + "," + Y(d[0],d[1])).join(" "))
    .attr("fill", "none").attr("stroke", INK).attr("stroke-width", 3.6);

  // ticks
  const tk = 1.6;
  majorLevels.forEach(v => {
    const tks = [
      [[v, 0], [v, tk]],
      [[0, 100 - v], [tk, 100 - v - tk]],
      [[100 - v, v], [100 - v - tk, v]]
    ];
    tks.forEach(s => g.append("line")
      .attr("x1", X(s[0][0], s[0][1])).attr("y1", Y(s[0][0], s[0][1]))
      .attr("x2", X(s[1][0], s[1][1])).attr("y2", Y(s[1][0], s[1][1]))
      .attr("stroke", INK).attr("stroke-width", 3.2));
  });

  // liquidus
  const line = d3.line().x(d => X(d[0], d[1])).y(d => Y(d[0], d[1]));
  g.append("path").attr("d", line(liquidus)).attr("fill", "none")
    .attr("stroke", RED).attr("stroke-width", 3);

  // average composition star
  g.append("path").attr("d", starPath(p.starR))
    .attr("transform", `translate(${X(avgComp[i][0], avgComp[i][1])},${Y(avgComp[i][0], avgComp[i][1])})`)
    .attr("fill", RED);

  // tick labels
  const tl = g.append("g");
  tickValues.forEach(v => {
    tl.append("text").attr("x", X(0, 100 - v) - 32).attr("y", Y(0, 100 - v) + 19)
      .attr("text-anchor", "end").attr("font-size", FS).text(v);
    tl.append("text").attr("x", X(100 - v, v) + (v === 0 ? 44 : 30)).attr("y", Y(100 - v, v) + 19)
      .attr("text-anchor", "start").attr("font-size", FS).text(v);
    tl.append("text").attr("x", X(v, 0)).attr("y", p.y0 + 63)
      .attr("text-anchor", "middle").attr("font-size", FS).text(v);
  });

  // axis titles
  rich(g, X(50, 0) - 3, p.y0 + 119,
    [{t:"w", it:1}, {t:"(Al"}, {t:"2", sub:1}, {t:"O"}, {t:"3", sub:1}, {t:")/%"}], "middle");
  const lg = g.append("g").attr("transform", `translate(${X(0, 50) - 158},${Y(0, 50)}) rotate(-60)`);
  rich(lg, 0, 18, [{t:"w", it:1}, {t:"(CaO)/%"}], "middle");
  const rg = g.append("g").attr("transform", `translate(${X(50, 50) + 172},${Y(50, 50)}) rotate(60)`);
  rich(rg, 0, 18, [{t:"w", it:1}, {t:"(CaS)/%"}], "middle");

  // panel label + legend
  g.append("text").attr("x", p.label[0]).attr("y", p.label[1]).attr("font-size", FS).text(panelLabels[i]);
  g.append("path").attr("d", starPath(24)).attr("transform", `translate(${p.lstar[0]},${p.lstar[1]})`).attr("fill", RED);
  g.append("text").attr("x", p.avgText[0]).attr("y", p.avgText[1]).attr("font-size", FS).text(legendStarText);
  g.append("line").attr("x1", p.lline[0]).attr("x2", p.lline[1]).attr("y1", p.lline[2]).attr("y2", p.lline[2])
    .attr("stroke", RED).attr("stroke-width", 3);
  g.append("text").attr("x", p.lineText[0]).attr("y", p.lineText[1]).attr("font-size", FS).text(legendLineTexts[i]);
  rich(g, p.dmax[0], p.dmax[1], [{t:"D", it:1}, {t:"max", sub:1}, {t:"=" + dMaxValues[i] + " \u03bcm"}]);
  rich(g, p.dave[0], p.dave[1], [{t:"D", it:1}, {t:"ave", sub:1}, {t:"=" + dAveValues[i] + " \u03bcm"}]);

  // stats
  rich(g, p.stats[0], p.stats[1], [{t:"Scanning area: " + scanAreas[i] + " mm"}, {t:"2", sup:1}]);
  rich(g, p.stats[0], p.stats[2], [{t:"Number density: " + numberDensities[i] + " mm"}, {t:"\u22122", sup:1}]);
  rich(g, p.stats[0], p.stats[3], [{t:"Area fraction: " + areaFractions[i] + "\u00d710"}, {t:"\u22124", sup:1}]);
});
</script>
</body></html>
